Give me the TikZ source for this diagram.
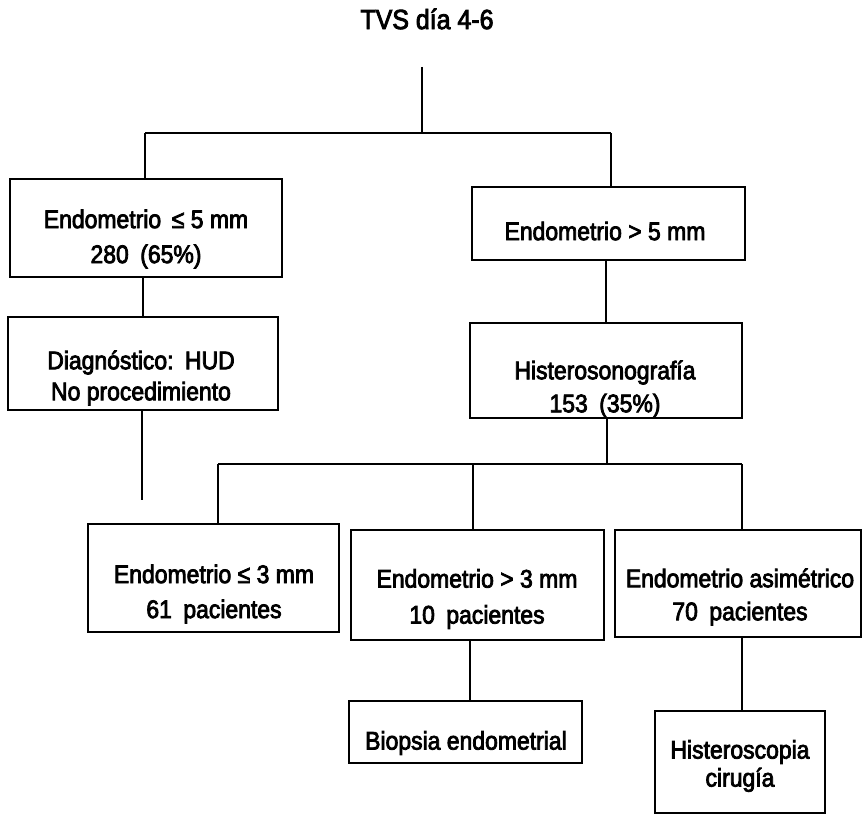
\documentclass[tikz,border=0pt]{standalone}
\usepackage{fontspec}
\setmainfont{Liberation Sans}[FakeBold=3,FakeStretch=0.9]
\begin{document}
\begin{tikzpicture}[x=1pt,y=-1pt,
  box/.style={draw=black,line width=2.4pt,inner sep=0pt},
  txt/.style={inner sep=0pt,align=center,text=black,
    font=\fontsize{25.5}{34}\selectfont},
  conn/.style={draw=black,line width=1.9pt}]
\useasboundingbox[fill=white] (0,0) rectangle (868,816);
\newcommand{\gp}{\hspace{0.45em}}
% boxes (centre, width, height)
\node[box,minimum width=272pt,minimum height=98pt]  (b1) at (146,228) {};
\node[box,minimum width=273pt,minimum height=73pt]  (b2) at (608.5,223.5) {};
\node[box,minimum width=270pt,minimum height=93pt]  (b3) at (143,363.5) {};
\node[box,minimum width=272pt,minimum height=95pt]  (b4) at (606,370.5) {};
\node[box,minimum width=251pt,minimum height=108pt] (b5) at (213.5,578) {};
\node[box,minimum width=253pt,minimum height=110pt] (b6) at (477.5,585) {};
\node[box,minimum width=246pt,minimum height=107pt] (b7) at (738,583.5) {};
\node[box,minimum width=233pt,minimum height=62pt]  (b8) at (465.5,732) {};
\node[box,minimum width=170pt,minimum height=102pt] (b9) at (740,762) {};
% texts
\node[txt,font=\fontsize{27.7}{32}\selectfont] (t) at (427,19) {TVS día 4-6};
\node[txt,font=\fontsize{25.5}{35}\selectfont] (t1x) at (146,239) {Endometrio\, ≤ 5 mm\\280\gp(65\%)};
\node[txt] (t2x) at (605,231) {Endometrio > 5 mm};
\node[txt,font=\fontsize{25.5}{31}\selectfont] (t3x) at (141,378) {Diagnóstico:\gp HUD\\No procedimiento};
\node[txt,font=\fontsize{25.5}{33}\selectfont] (t4x) at (605,389) {Histerosonografía\\153\gp(35\%)};
\node[txt,font=\fontsize{25.5}{35}\selectfont] (t5x) at (214,594) {Endometrio ≤ 3 mm\\61\gp pacientes};
\node[txt,font=\fontsize{25.5}{36}\selectfont] (t6x) at (477,599) {Endometrio > 3 mm\\10\gp pacientes};
\node[txt,font=\fontsize{25.5}{33}\selectfont] (t7x) at (740,597) {Endometrio asimétrico\\70\gp pacientes};
\node[txt] (t8x) at (466,743) {Biopsia endometrial};
\node[txt,font=\fontsize{25.5}{28}\selectfont] (t9x) at (740,766) {Histeroscopia\\cirugía};
% connector guide coordinates
\coordinate (t1) at (422,67);
\coordinate (j1) at (422,133);
\coordinate (l1) at (145,133);
\coordinate (r1) at (611,133);
\coordinate (c13) at (143,0);
\coordinate (c24) at (606,0);
\coordinate (d3) at (142,500);
\coordinate (j2) at (607,464);
\coordinate (jl) at (218,464);
\coordinate (jm) at (473,464);
\coordinate (jr) at (742,464);
\coordinate (c68) at (470,0);
\coordinate (c79) at (742,0);
\draw[conn] (t1) -- (j1);
\draw[conn] (l1) -- (r1);
\draw[conn] (l1) -- (l1 |- b1.north);
\draw[conn] (r1) -- (r1 |- b2.north);
\draw[conn] (c13 |- b1.south) -- (c13 |- b3.north);
\draw[conn] (c24 |- b2.south) -- (c24 |- b4.north);
\draw[conn] (d3 |- b3.south) -- (d3);
\draw[conn] (j2 |- b4.south) -- (j2);
\draw[conn] (jl) -- (jr);
\draw[conn] (jl) -- (jl |- b5.north);
\draw[conn] (jm) -- (jm |- b6.north);
\draw[conn] (jr) -- (jr |- b7.north);
\draw[conn] (c68 |- b6.south) -- (c68 |- b8.north);
\draw[conn] (c79 |- b7.south) -- (c79 |- b9.north);
\end{tikzpicture}
\end{document}
